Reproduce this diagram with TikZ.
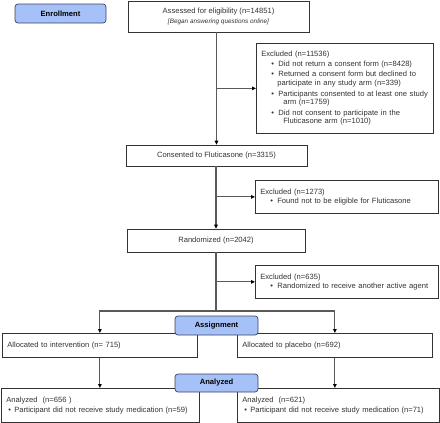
\documentclass[tikz,border=0pt]{standalone}
\usepackage{fontspec}
\setmainfont{Liberation Sans}
\usetikzlibrary{arrows.meta}
\definecolor{phaseblue}{HTML}{A6C0F8}
\definecolor{phaseedge}{HTML}{3A4460}
\newcommand{\bul}{\hspace*{10pt}\makebox[7pt][l]{\textbullet}}
\tikzset{
    flowbox/.style={
        draw=black!80,
        line width=0.7pt,
        fill=white,
        rectangle,
        inner xsep=5pt,
        inner ysep=2pt,
        text=black!80,
        font=\fontsize{7.6}{8.6}\selectfont
    },
    listbox/.style={
        flowbox,
        anchor=north west,
        align=left
    },
    phase/.style={
        draw=phaseedge,
        line width=0.7pt,
        fill=phaseblue,
        rounded corners=3pt,
        minimum width=83pt,
        minimum height=19pt,
        font=\fontsize{7.6}{8.6}\selectfont\bfseries
    },
    link/.style={draw=black!65, line width=1.1pt},
    arr/.style={link, -{Triangle[length=4pt,width=3.6pt,color=black]}}
}

\begin{document}
\begin{tikzpicture}[x=1pt,y=-1pt]
    \useasboundingbox[fill=white] (0,0) rectangle (440,423);
    % boxes of the main column
    \node[flowbox,minimum width=181pt,minimum height=31pt,align=center] (assess) at (218.5,16.5)
        {Assessed for eligibility (n=14851)\\[1pt]{\fontsize{6.4}{7}\selectfont\itshape [Began answering questions online]}};
    \node[flowbox,minimum width=181pt,minimum height=21pt] (consent) at (216.5,155.5)
        {Consented to Fluticasone (n=3315)};
    \node[flowbox,minimum width=178pt,minimum height=23pt] (rand) at (216,240.5)
        {Randomized (n=2042)};
    % exclusions
    \node[listbox,text width=167pt,minimum height=90pt] (excl1) at (256,43)
        {Excluded (n=11536)\\[1pt]
         \bul Did not return a consent form (n=8428)\\[2pt]
         \bul Returned a consent form but declined to\\
         \hspace*{16pt}participate in any study arm (n=339)\\[2pt]
         \bul Participants consented to at least one study\\
         \hspace*{22pt}arm (n=1759)\\[2pt]
         \bul Did not consent to participate in the\\
         \hspace*{22pt}Fluticasone arm (n=1010)};
    \node[listbox,text width=173pt,minimum height=33pt] (excl2) at (255,180)
        {Excluded (n=1273)\\[1pt]
         \bul Found not to be eligible for Fluticasone};
    \node[listbox,text width=173pt,minimum height=33pt] (excl3) at (255,265)
        {Excluded (n=635)\\[1pt]
         \bul Randomized to receive another active agent};
    % the two arms
    \node[listbox,text width=185pt,minimum height=24pt] (allocI) at (2,333)
        {Allocated to intervention (n= 715)};
    \node[listbox,text width=185pt,minimum height=24pt] (allocP) at (237,333)
        {Allocated to placebo (n=692)};
    \node[listbox,text width=188pt,minimum height=34pt] (anaI) at (1,388)
        {Analyzed\ \ (n=656 )\\[1pt]
         \hspace*{2pt}\makebox[6pt][l]{\textbullet}Participant did not receive study medication (n=59)};
    \node[listbox,text width=192pt,minimum height=34pt] (anaP) at (237,388)
        {Analyzed\ \ (n=621)\\[1pt]
         \hspace*{2pt}\makebox[6pt][l]{\textbullet}Participant did not receive study medication (n=71)};
    \coordinate (split) at (216,311);
    % connectors
    \draw[arr] (consent.north |- assess.south) -- (consent.north);
    \draw[arr] (consent.north |- excl1.west) -- (excl1.west);
    \draw[arr] (rand.north |- consent.south) -- (rand.north);
    \draw[arr] (rand.north |- excl2.west) -- (excl2.west);
    \draw[link] (rand.south) -- (split);
    \draw[arr] (rand.south |- excl3.west) -- (excl3.west);
    \draw[arr] (split) -| (allocI.north);
    \draw[arr] (split) -| (allocP.north);
    \draw[arr] (allocI.south) -- (allocI.south |- anaI.north);
    \draw[arr] (allocP.south) -- (allocP.south |- anaP.north);
    % phase labels
    \node[phase,minimum width=91pt] (enroll) at (60.5,13.5) {Enrollment};
    \node[phase] (assign) at (216.5,325.5) {Assignment};
    \node[phase,minimum height=18pt] (analyz) at (216.5,383) {Analyzed};
\end{tikzpicture}
\end{document}
